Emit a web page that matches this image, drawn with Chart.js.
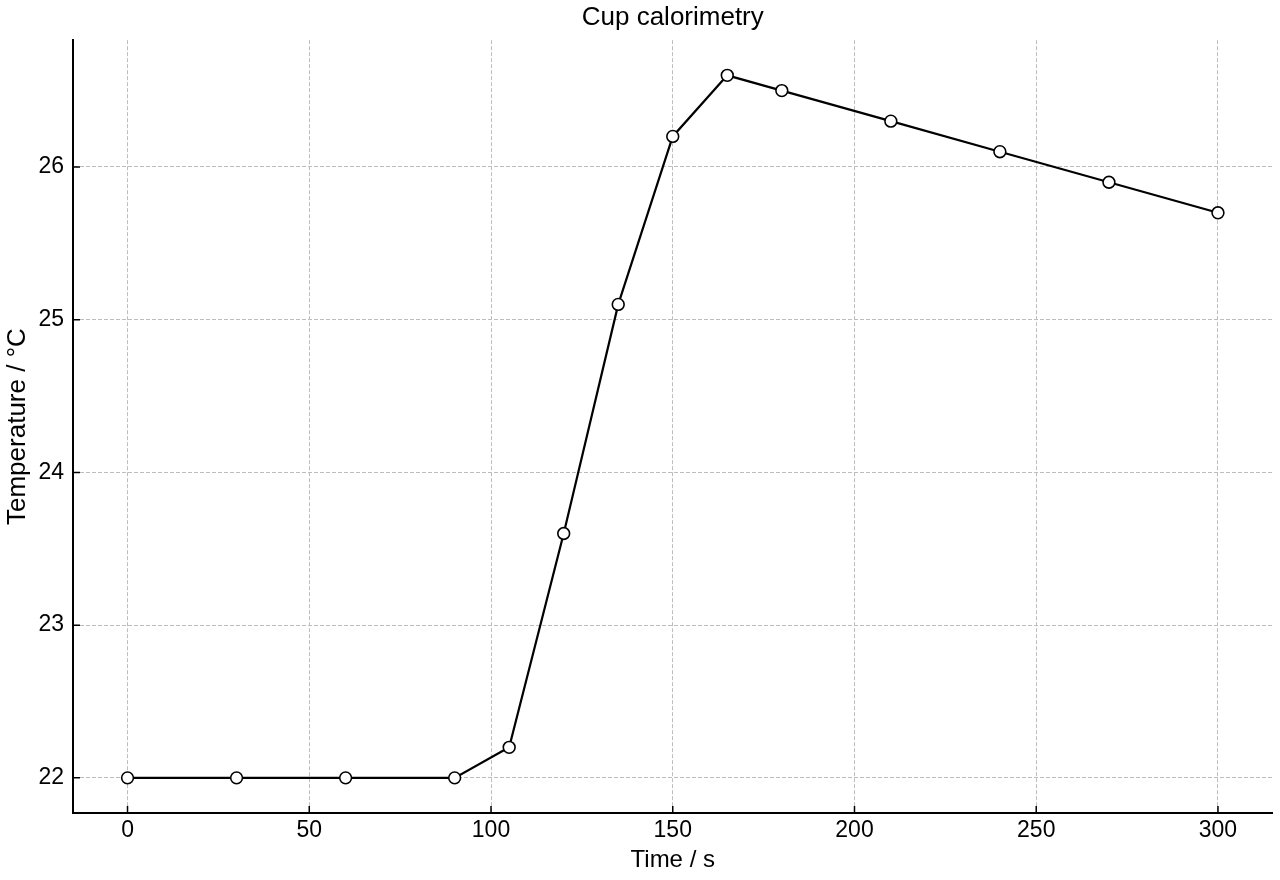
<!DOCTYPE html>
<html>
<head>
<meta charset="utf-8">
<script src="https://cdn.jsdelivr.net/npm/chart.js@4"></script>
<style>
  html, body { margin: 0; padding: 0; background: #fff; }
  #wrap { width: 1280px; height: 880px; }
</style>
</head>
<body>
<div id="wrap"><canvas id="calChart"></canvas></div>
<script>
// readings taken off the cup calorimetry plot
const timeS = [0, 30, 60, 90, 105, 120, 135, 150, 165, 180, 210, 240, 270, 300];
const tempC = [22.0, 22.0, 22.0, 22.0, 22.2, 23.6, 25.1, 26.2, 26.6, 26.5, 26.3, 26.1, 25.9, 25.7];
const xTicks = [0, 50, 100, 150, 200, 250, 300];
const yTicks = [22, 23, 24, 25, 26];

document.addEventListener('DOMContentLoaded', () => {
    if (typeof Chart === 'undefined') {
        console.error("Chart.js failed to load.");
        return;
    }

    const fontFam = "'Liberation Sans', Arial, Helvetica, sans-serif";
    const gridColor = '#bdbdbd';

    // matplotlib-like inward ticks
    const inwardTicks = {
        id: 'inwardTicks',
        afterDraw(chart) {
            const { ctx, chartArea, scales } = chart;
            ctx.save();
            ctx.strokeStyle = '#000';
            ctx.lineWidth = 1.5;
            ctx.beginPath();
            scales.x.ticks.forEach(t => {
                const px = scales.x.getPixelForValue(t.value);
                ctx.moveTo(px, chartArea.bottom);
                ctx.lineTo(px, chartArea.bottom - 7);
            });
            scales.y.ticks.forEach(t => {
                const py = scales.y.getPixelForValue(t.value);
                ctx.moveTo(chartArea.left, py);
                ctx.lineTo(chartArea.left + 7, py);
            });
            ctx.stroke();
            ctx.restore();
        }
    };

    const data = {
        datasets: [{
            label: 'Temperature',
            data: timeS.map((t, i) => ({ x: t, y: tempC[i] })),
            borderColor: '#000',
            borderWidth: 2.2,
            tension: 0,
            pointBackgroundColor: '#fff',
            pointBorderColor: '#000',
            pointBorderWidth: 1.6,
            pointRadius: 5.9,
            clip: false
        }]
    };

    new Chart(document.getElementById('calChart'), {
        type: 'line',
        data: data,
        plugins: [inwardTicks],
        options: {
            responsive: true,
            maintainAspectRatio: false,
            animation: false,
            layout: { padding: { left: 0, right: 7, top: 0, bottom: 0 } },
            plugins: {
                legend: { display: false },
                tooltip: { enabled: false },
                title: {
                    display: true,
                    fullSize: false, // centre over the plot area
                    text: 'Cup calorimetry',
                    color: '#000',
                    font: { family: fontFam, size: 26, weight: 'normal' },
                    padding: { top: 2, bottom: 7 }
                }
            },
            scales: {
                x: {
                    type: 'linear',
                    min: -15,
                    max: 315,
                    afterBuildTicks: s => { s.ticks = xTicks.map(v => ({ value: v })); },
                    afterFit: s => { s.height = 67; },
                    grid: { color: gridColor, lineWidth: 1, drawTicks: false },
                    border: { display: true, color: '#000', width: 2, dash: [4, 2] },
                    ticks: {
                        color: '#000',
                        padding: 4,
                        font: { family: fontFam, size: 23 }
                    },
                    title: {
                        display: true,
                        text: 'Time / s',
                        color: '#000',
                        font: { family: fontFam, size: 24 },
                        padding: { top: 0, bottom: 5 }
                    }
                },
                y: {
                    type: 'linear',
                    min: 21.77,
                    max: 26.83,
                    afterBuildTicks: s => { s.ticks = yTicks.map(v => ({ value: v })); },
                    afterFit: s => { s.width = 73; },
                    grid: { color: gridColor, lineWidth: 1, drawTicks: false },
                    border: { display: true, color: '#000', width: 2, dash: [4, 2] },
                    ticks: {
                        color: '#000',
                        padding: 9,
                        font: { family: fontFam, size: 23 }
                    },
                    title: {
                        display: true,
                        text: 'Temperature / °C',
                        color: '#000',
                        font: { family: fontFam, size: 26 },
                        padding: { top: 2, bottom: 0 }
                    }
                }
            }
        }
    });
});
</script>
</body>
</html>
